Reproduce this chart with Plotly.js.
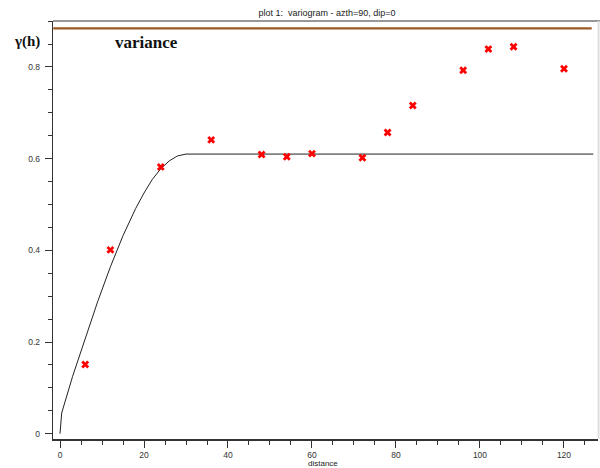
<!DOCTYPE html>
<html>
<head>
<meta charset="utf-8">
<script src="https://cdn.plot.ly/plotly-3.0.1.min.js"></script>
<style>html,body{margin:0;padding:0;background:#fff;}#chart{width:600px;height:468px;}</style>
</head>
<body>
<div id="chart"></div>
<script>
// Experimental variogram points (lag distance, gamma)
var lagDistance = [6, 12, 24, 36, 48, 54, 60, 72, 78, 84, 96, 102, 108, 120];
var gammaValues = [0.151, 0.401, 0.582, 0.641, 0.609, 0.604, 0.611, 0.602, 0.657, 0.716, 0.793, 0.839, 0.844, 0.796];

// Fitted model curve
var modelDistance = [0, 0.4, 3, 6, 9, 12, 15, 18, 20, 22, 24, 26, 28, 30, 127];
var modelGamma = [0, 0.045, 0.125, 0.209, 0.289, 0.364, 0.432, 0.491, 0.525, 0.555, 0.578, 0.595, 0.606, 0.61, 0.61];

// Variance (sill) line
var varianceDistance = [-1.6, 126.6];
var varianceValue = [0.884, 0.884];

var titleText = 'plot 1:  variogram - azth=90, dip=0';
var xTitle = 'distance';
var yLabel = '\u03b3(h)';
var varianceLabel = 'variance';

var tickFont = {family: 'Liberation Sans, Arial, sans-serif', size: 8.5, color: '#333'};

var traces = [
  {x: varianceDistance, y: varianceValue, mode: 'lines', type: 'scatter',
   line: {color: '#9c5a22', width: 2.2}, hoverinfo: 'skip'},
  {x: modelDistance, y: modelGamma, mode: 'lines', type: 'scatter',
   line: {color: '#222', width: 1}, hoverinfo: 'skip'},
  {x: lagDistance, y: gammaValues, mode: 'markers', type: 'scatter',
   marker: {symbol: 'x', size: 7, color: '#ff0000', line: {width: 0}}}
];

var layout = {
  width: 600, height: 468,
  margin: {l: 53, r: 2, t: 21, b: 29, pad: 0},
  paper_bgcolor: '#fff', plot_bgcolor: '#fff',
  showlegend: false,
  title: {text: titleText, x: 0.545, xanchor: 'center', xref: 'container',
          y: 0.972, yanchor: 'middle', yref: 'container',
          font: {family: 'Liberation Sans, Arial, sans-serif', size: 9, color: '#222'}},
  xaxis: {
    range: [-1.667, 128.1], showgrid: false, zeroline: false,
    showline: true, linecolor: '#333', linewidth: 1.5,
    ticks: 'outside', ticklen: 7, tickwidth: 1, tickcolor: '#333',
    dtick: 20, tick0: 0, tickfont: tickFont, ticklabelstandoff: 0,
    minor: {dtick: 5, tick0: 0, ticks: 'outside', ticklen: 4, tickcolor: '#333', tickwidth: 1, showgrid: false}
  },
  yaxis: {
    range: [-0.0116, 0.9003], showgrid: false, zeroline: false,
    showline: true, linecolor: '#333', linewidth: 1.2,
    ticks: 'outside', ticklen: 7, tickwidth: 1, tickcolor: '#333',
    dtick: 0.2, tick0: 0, tickfont: tickFont, ticklabelstandoff: 3,
    minor: {dtick: 0.05, tick0: 0, ticks: 'outside', ticklen: 4, tickcolor: '#333', tickwidth: 1, showgrid: false}
  },
  shapes: [
    {type: 'line', xref: 'paper', yref: 'paper', x0: 0, x1: 1.005, y0: 1, y1: 1,
     line: {color: '#333', width: 1.2}},
    {type: 'line', xref: 'paper', yref: 'paper', x0: 1.001, x1: 1.001, y0: 0, y1: 1,
     line: {color: '#dedede', width: 2}}
  ],
  annotations: [
    {text: xTitle, xref: 'paper', yref: 'paper', x: 0.495, y: 0, xanchor: 'center', yanchor: 'middle',
     yshift: -24, showarrow: false,
     font: {family: 'Liberation Sans, Arial, sans-serif', size: 8, color: '#222'}},
    {text: '<b>' + yLabel + '</b>', xref: 'paper', yref: 'paper', x: -0.0477, y: 0.95,
     xanchor: 'center', yanchor: 'middle', showarrow: false,
     font: {family: 'Liberation Serif, Times New Roman, serif', size: 15, color: '#111'}},
    {text: '<b>' + varianceLabel + '</b>', xref: 'paper', yref: 'paper', x: 0.1716, y: 0.948,
     xanchor: 'center', yanchor: 'middle', showarrow: false,
     font: {family: 'Liberation Serif, Times New Roman, serif', size: 17, color: '#111'}}
  ]
};

Plotly.newPlot('chart', traces, layout, {staticPlot: true, displayModeBar: false});
</script>
</body>
</html>
